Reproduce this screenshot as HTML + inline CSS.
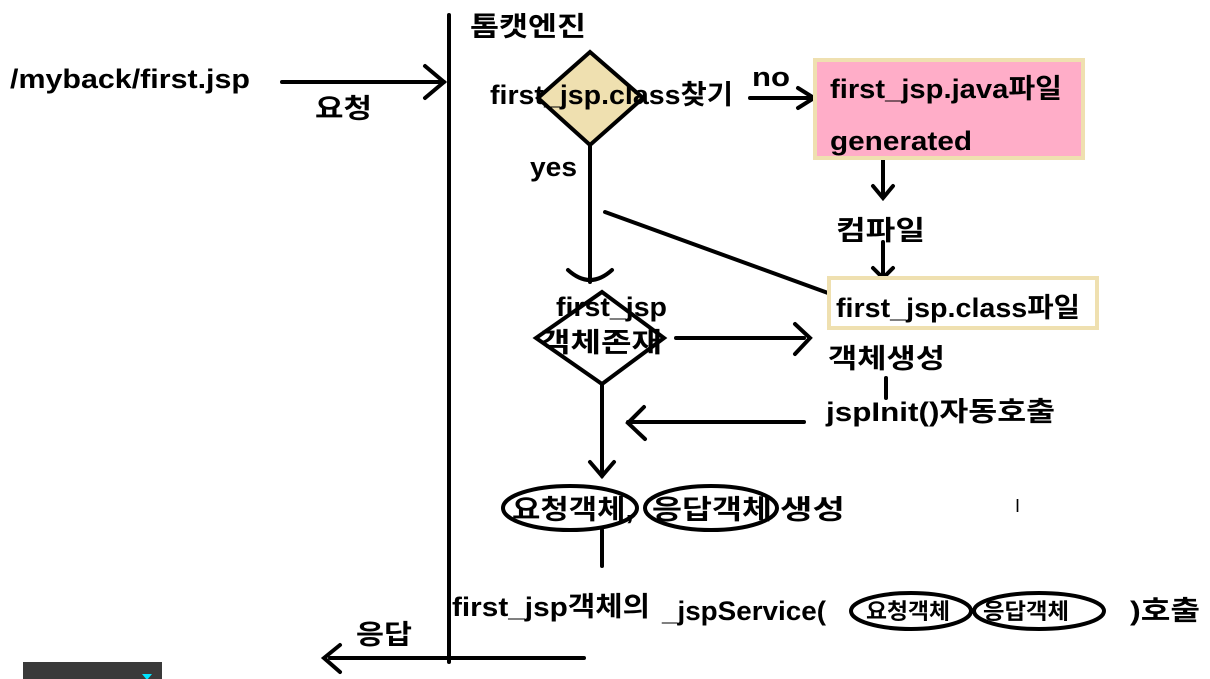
<!DOCTYPE html>
<html><head><meta charset="utf-8"><style>
html,body{margin:0;padding:0;background:#fff;width:1210px;height:679px;overflow:hidden}
svg text{font-family:"Liberation Sans","Noto Sans CJK KR",sans-serif;font-weight:bold;fill:#000}
</style></head><body>
<svg width="1210" height="679" xmlns="http://www.w3.org/2000/svg">
<g stroke="#000" stroke-width="4" fill="none" stroke-linecap="round">
<line x1="449" y1="15" x2="449" y2="662"/>
<line x1="282" y1="82" x2="444" y2="82"/>
<path d="M425 66 L444 82 L425 98"/>
<line x1="330" y1="658" x2="584" y2="658"/>
<path d="M340 645 L324 658 L340 672"/>
<polygon points="590,52 643,98 590,145 538,98" fill="#efe0b0"/>
<line x1="590" y1="145" x2="590" y2="282"/>
<path d="M568 270 Q590 290 612 270"/>
<line x1="750" y1="98" x2="812" y2="98"/>
<path d="M798 88 L814 98 L798 108"/>
<line x1="883" y1="160" x2="883" y2="196"/>
<path d="M873 186 L883 198 L893 186"/>
<line x1="883" y1="242" x2="883" y2="276"/>
<path d="M873 268 L883 278 L893 268"/>
<line x1="605" y1="212" x2="828" y2="293"/>
<polygon points="602,292 664,338 602,384 536,338"/>
<line x1="676" y1="338" x2="804" y2="338"/>
<path d="M795 324 L810 338 L795 354"/>
<line x1="886" y1="378" x2="886" y2="398"/>
<line x1="602" y1="384" x2="602" y2="476"/>
<path d="M590 462 L602 476 L614 462"/>
<line x1="804" y1="422" x2="628" y2="422"/>
<path d="M644 407 L628 423 L645 439"/>
<ellipse cx="570" cy="508" rx="67" ry="22"/>
<ellipse cx="711" cy="508" rx="66" ry="22"/>
<line x1="602" y1="530" x2="602" y2="566"/>
<ellipse cx="911" cy="611" rx="60" ry="18"/>
<ellipse cx="1039" cy="611" rx="65" ry="18"/>
</g>
<rect x="815" y="60" width="268" height="98" fill="#ffadc8" stroke="#efe0b0" stroke-width="4"/>
<rect x="829" y="278" width="268" height="50" fill="#fff" stroke="#efe0b0" stroke-width="4"/>
<g font-size="27">
<text x="10" y="88" textLength="240" lengthAdjust="spacingAndGlyphs">/myback/first.jsp</text>
<text x="315" y="118" textLength="57" lengthAdjust="spacingAndGlyphs">요청</text>
<text x="470" y="36" textLength="116" lengthAdjust="spacingAndGlyphs">톰캣엔진</text>
<text x="490" y="104" textLength="243" lengthAdjust="spacingAndGlyphs">first_jsp.class찾기</text>
<text x="752" y="86" textLength="38" lengthAdjust="spacingAndGlyphs">no</text>
<text x="830" y="98" textLength="232" lengthAdjust="spacingAndGlyphs">first_jsp.java파일</text>
<text x="830" y="150" textLength="142" lengthAdjust="spacingAndGlyphs">generated</text>
<text x="530" y="176" textLength="47" lengthAdjust="spacingAndGlyphs">yes</text>
<text x="836" y="240" textLength="89" lengthAdjust="spacingAndGlyphs">컴파일</text>
<text x="836" y="317" textLength="244" lengthAdjust="spacingAndGlyphs">first_jsp.class파일</text>
<text x="556" y="316" textLength="111" lengthAdjust="spacingAndGlyphs">first_jsp</text>
<text x="540" y="352" textLength="122" lengthAdjust="spacingAndGlyphs">객체존재</text>
<text x="828" y="368" textLength="117" lengthAdjust="spacingAndGlyphs">객체생성</text>
<text x="826" y="421" textLength="229" lengthAdjust="spacingAndGlyphs">jspInit()자동호출</text>
<text x="512" y="519" textLength="122" lengthAdjust="spacingAndGlyphs">요청객체,</text>
<text x="652" y="519" textLength="120" lengthAdjust="spacingAndGlyphs">응답객체</text>
<text x="780" y="519" textLength="65" lengthAdjust="spacingAndGlyphs">생성</text>
<text x="452" y="616" textLength="198" lengthAdjust="spacingAndGlyphs">first_jsp객체의</text>
<text x="662" y="620" textLength="164" lengthAdjust="spacingAndGlyphs">_jspService(</text>
<text x="1130" y="620" textLength="70" lengthAdjust="spacingAndGlyphs">)호출</text>
<text x="356" y="644" textLength="56" lengthAdjust="spacingAndGlyphs">응답</text>
</g>
<text x="866" y="619" font-size="22" textLength="84" lengthAdjust="spacingAndGlyphs">요청객체</text>
<text x="983" y="619" font-size="22" textLength="86" lengthAdjust="spacingAndGlyphs">응답객체</text>
<text x="1015" y="512" font-size="18" style="font-weight:normal">I</text>
<rect x="23" y="662" width="139" height="20" fill="#3a3a3a"/>
<polygon points="142,674 152,674 147,680" fill="#00e5ff"/>
</svg>
</body></html>
